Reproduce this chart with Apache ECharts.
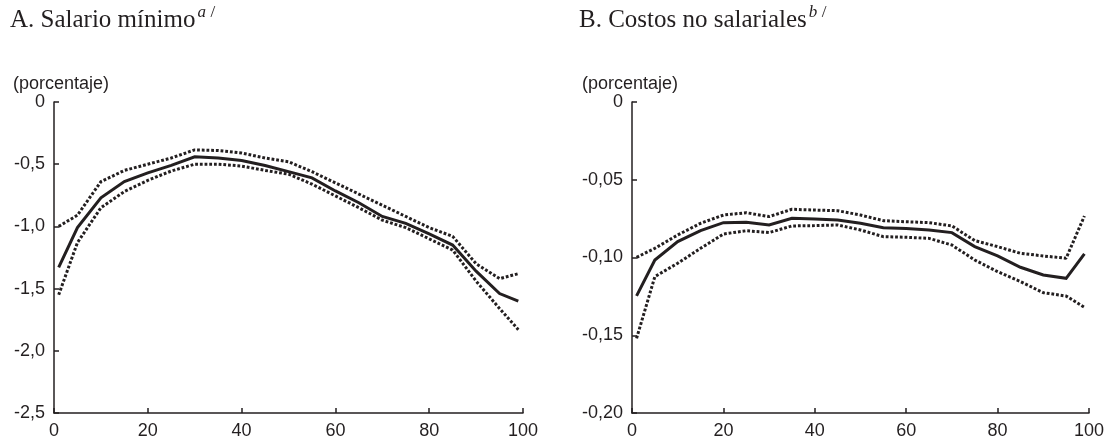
<!DOCTYPE html>
<html>
<head>
<meta charset="utf-8">
<script src="https://cdn.jsdelivr.net/npm/echarts@6/dist/echarts.min.js"></script>
<style>
  html, body { margin: 0; padding: 0; background: #ffffff; }
  #chart { width: 1107px; height: 441px; }
</style>
</head>
<body>
<div id="chart"></div>
<script>
// Percentiles of the wage distribution (x axis)
const percentiles = [1, 5, 10, 15, 20, 25, 30, 35, 40, 45, 50, 55, 60, 65, 70, 75, 80, 85, 90, 95, 99];

// Panel A: minimum wage effect (percent), point estimate and confidence band
const salarioEstimado = [-1.33, -1.01, -0.77, -0.64, -0.57, -0.51, -0.44, -0.45, -0.47, -0.51, -0.56, -0.61, -0.715, -0.81, -0.92, -0.975, -1.06, -1.15, -1.36, -1.54, -1.60];
const salarioSuperior = [-1.00, -0.91, -0.64, -0.55, -0.50, -0.45, -0.385, -0.39, -0.41, -0.45, -0.48, -0.56, -0.65, -0.74, -0.83, -0.92, -1.01, -1.08, -1.30, -1.42, -1.38];
const salarioInferior = [-1.55, -1.13, -0.85, -0.72, -0.63, -0.555, -0.50, -0.50, -0.515, -0.55, -0.58, -0.66, -0.755, -0.85, -0.95, -1.01, -1.10, -1.19, -1.44, -1.66, -1.83];

// Panel B: non-wage costs effect (percent), point estimate and confidence band
const costosEstimado = [-0.1247, -0.1016, -0.0898, -0.0827, -0.0776, -0.0774, -0.0791, -0.0748, -0.0752, -0.0759, -0.0780, -0.0808, -0.0814, -0.0823, -0.0840, -0.0930, -0.0990, -0.1063, -0.1112, -0.1134, -0.0977];
const costosSuperior = [-0.0999, -0.0941, -0.0855, -0.0780, -0.0727, -0.0712, -0.0737, -0.0690, -0.0695, -0.0699, -0.0727, -0.0763, -0.0770, -0.0776, -0.0797, -0.0891, -0.0930, -0.0973, -0.0990, -0.1005, -0.0733];
const costosInferior = [-0.1520, -0.1123, -0.1037, -0.0941, -0.0849, -0.0828, -0.0840, -0.0797, -0.0795, -0.0791, -0.0823, -0.0866, -0.0870, -0.0877, -0.0920, -0.1016, -0.1091, -0.1155, -0.1226, -0.1248, -0.1320];

// Axis settings
const xTicks = { min: 0, max: 100, interval: 20 };
const yAxisA = { min: -2.5, max: 0, interval: 0.5, decimals: 1 };
const yAxisB = { min: -0.2, max: 0, interval: 0.05, decimals: 2 };

const titles = ['A. Salario mínimo', 'B. Costos no salariales'];
const superscripts = ['a', 'b'];
const unitLabel = '(porcentaje)';

const INK = '#231f20';
const SANS = '"Liberation Sans", Arial, sans-serif';
const SERIF = '"Liberation Serif", "Times New Roman", serif';
const TITLE_SIZE = 25;
const TICK_SIZE = 18;

function pairs(ys) {
  return percentiles.map((p, i) => [p, ys[i]]);
}

function commaFormatter(decimals) {
  return function (v) {
    if (Math.abs(v) < 1e-9) return '0';
    return v.toFixed(decimals).replace('.', ',');
  };
}

function xAxisDef(gridIndex) {
  return {
    type: 'value', gridIndex, position: 'bottom',
    min: xTicks.min, max: xTicks.max, interval: xTicks.interval,
    axisLine: { show: true, onZero: false, lineStyle: { color: INK, width: 1.5 } },
    axisTick: { show: true, inside: true, length: 5, lineStyle: { color: INK, width: 1.5 } },
    axisLabel: { color: INK, fontFamily: SANS, fontSize: TICK_SIZE, margin: 9 },
    splitLine: { show: false }
  };
}

function yAxisDef(gridIndex, cfg) {
  return {
    type: 'value', gridIndex, position: 'left',
    min: cfg.min, max: cfg.max, interval: cfg.interval,
    axisLine: { show: true, onZero: false, lineStyle: { color: INK, width: 1.5 } },
    axisTick: { show: true, inside: true, length: 5, lineStyle: { color: INK, width: 1.5 } },
    axisLabel: { color: INK, fontFamily: SANS, fontSize: TICK_SIZE, margin: 9, formatter: commaFormatter(cfg.decimals) },
    splitLine: { show: false }
  };
}

function lineSeries(idx, ys, dotted) {
  return {
    type: 'line', xAxisIndex: idx, yAxisIndex: idx,
    data: pairs(ys),
    symbol: 'none', silent: true, animation: false,
    lineStyle: dotted
      ? { color: INK, width: 3, type: [2.8, 1.9], cap: 'butt' }
      : { color: INK, width: 3, cap: 'butt', join: 'miter' }
  };
}

const chart = echarts.init(document.getElementById('chart'), null, { renderer: 'canvas' });

chart.setOption({
  animation: false,
  backgroundColor: '#ffffff',
  grid: [
    { left: 54, top: 102, width: 469, height: 311 },
    { left: 632, top: 102, width: 460, height: 311 }
  ],
  xAxis: [xAxisDef(0), xAxisDef(1)],
  yAxis: [yAxisDef(0, yAxisA), yAxisDef(1, yAxisB)],
  series: [
    lineSeries(0, salarioSuperior, true),
    lineSeries(0, salarioInferior, true),
    lineSeries(0, salarioEstimado, false),
    lineSeries(1, costosSuperior, true),
    lineSeries(1, costosInferior, true),
    lineSeries(1, costosEstimado, false)
  ]
});

// Panel titles with superscript note markers, plus the unit label over each y axis
function placeTitles() {
  const ctx = document.createElement('canvas').getContext('2d');
  ctx.font = TITLE_SIZE + 'px ' + SERIF;
  const starts = [10, 579];
  const graphics = [];
  titles.forEach((t, i) => {
    const w = ctx.measureText(t).width;
    graphics.push({ type: 'text', left: starts[i], top: 8, style: { text: t, font: TITLE_SIZE + 'px ' + SERIF, fill: INK } });
    graphics.push({ type: 'text', left: starts[i] + w + 2, top: 4, style: { text: superscripts[i], font: 'italic 17px ' + SERIF, fill: INK } });
    graphics.push({ type: 'text', left: starts[i] + w + 15, top: 4, style: { text: '/', font: '17px ' + SERIF, fill: INK } });
  });
  graphics.push({ type: 'text', left: 13, top: 75, style: { text: unitLabel, font: '18px ' + SANS, fill: INK } });
  graphics.push({ type: 'text', left: 582, top: 75, style: { text: unitLabel, font: '18px ' + SANS, fill: INK } });
  chart.setOption({ graphic: graphics });
}
placeTitles();
</script>
</body>
</html>
